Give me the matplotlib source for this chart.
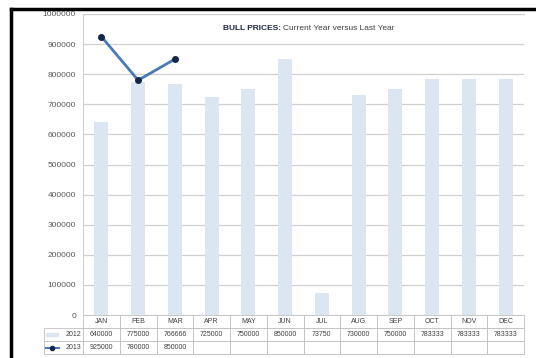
import matplotlib
matplotlib.use("Agg")
import matplotlib.pyplot as plt
from matplotlib.table import Table
from matplotlib.lines import Line2D
from matplotlib.patches import Rectangle
import numpy as np

plt.rcParams['font.family'] = ['Liberation Sans', 'DejaVu Sans']

# data
months = ["JAN", "FEB", "MAR", "APR", "MAY", "JUN", "JUL", "AUG", "SEP", "OCT", "NOV", "DEC"]
prices_2012 = [640000, 775000, 766666, 725000, 750000, 850000, 73750, 730000, 750000, 783333, 783333, 783333]
prices_2013 = [925000, 780000, 850000]
series_names = ["2012", "2013"]
yticks = list(range(0, 1000001, 100000))

bar_color = "#dce6f2"
line_color = "#4a7ab5"
marker_color = "#14264a"
grid_color = "#d0d0d0"
text_color = "#404040"

fig = plt.figure(figsize=(5.36, 3.58), dpi=100)
ax = fig.add_axes([83 / 536, 1 - 315 / 358, 441 / 536, 301 / 358])

x = np.arange(len(months))
ax.bar(x, prices_2012, width=0.38, color=bar_color, zorder=2)
ax.plot(x[:len(prices_2013)], prices_2013, color=line_color, lw=2, marker="o",
        ms=4, mfc=marker_color, mec=marker_color, zorder=3)

ax.set_xlim(-0.5, len(months) - 0.5)
ax.set_ylim(0, 1000000)
ax.set_yticks(yticks)
ax.set_yticklabels([str(v) for v in yticks], fontsize=6, color="#595959")
ax.set_xticks([])
ax.tick_params(axis="y", length=0, pad=5)
ax.grid(axis="y", color=grid_color, lw=0.9, zorder=0)
for s in ["right", "bottom"]:
    ax.spines[s].set_visible(False)
ax.spines["top"].set_color(grid_color)
ax.spines["left"].set_color(grid_color)

# title inside the plot area
t1 = ax.text(0.318, 0.952, "BULL PRICES:", transform=ax.transAxes, fontsize=6,
             fontweight="bold", color="#1f2a44", ha="left", va="center")
fig.canvas.draw()
bb = t1.get_window_extent().transformed(ax.transAxes.inverted())
ax.text(bb.x1 + 0.004, 0.952, "Current Year versus Last Year", transform=ax.transAxes,
        fontsize=6, color=text_color, ha="left", va="center")

# data table under the axis (bbox covers the month columns only)
lab_w = 39 / 441
col_w = 1.0 / len(months)
row_h = 13 / 301
tbl = Table(ax, bbox=[0, -3 * row_h, 1, 3 * row_h])
edge = "#bfbfbf"
c = tbl.add_cell(0, -1, width=lab_w, height=row_h, text="", loc="right")
c.visible_edges = ""
for j, m in enumerate(months):
    tbl.add_cell(0, j, width=col_w, height=row_h, text=m, loc="center")
rows = [prices_2012, prices_2013]
for i, vals in enumerate(rows):
    tbl.add_cell(i + 1, -1, width=lab_w, height=row_h, text=series_names[i], loc="right")
    for j in range(len(months)):
        txt = str(vals[j]) if j < len(vals) else ""
        tbl.add_cell(i + 1, j, width=col_w, height=row_h, text=txt, loc="center")
for (r, cc), cell in tbl.get_celld().items():
    cell.set_edgecolor(edge)
    cell.set_linewidth(0.6)
    cell.get_text().set_fontsize(5)
    cell.get_text().set_color(text_color)
    cell.PAD = 0.04
tbl.auto_set_font_size(False)
ax.add_table(tbl)

# legend keys in the row label cells
kx0 = -lab_w + 0.004
ax.add_patch(Rectangle((kx0, -2 * row_h + row_h * 0.38), 0.028, row_h * 0.25,
                       transform=ax.transAxes, color=bar_color, clip_on=False))
ax.add_line(Line2D([kx0, kx0 + 0.03], [-2.5 * row_h] * 2, transform=ax.transAxes,
                   color=line_color, lw=1.5, clip_on=False))
ax.add_line(Line2D([kx0 + 0.015], [-2.5 * row_h], transform=ax.transAxes, marker="o",
                   ms=3, color=marker_color, clip_on=False))

# black frame on the left and top of the picture
fig.add_artist(Line2D([11 / 536, 11 / 536], [0, 1 - 9 / 358], color="black", lw=2.5))
fig.add_artist(Line2D([11 / 536, 1], [1 - 9 / 358, 1 - 9 / 358], color="black", lw=2.5))

fig.savefig("out.png", dpi=100)
